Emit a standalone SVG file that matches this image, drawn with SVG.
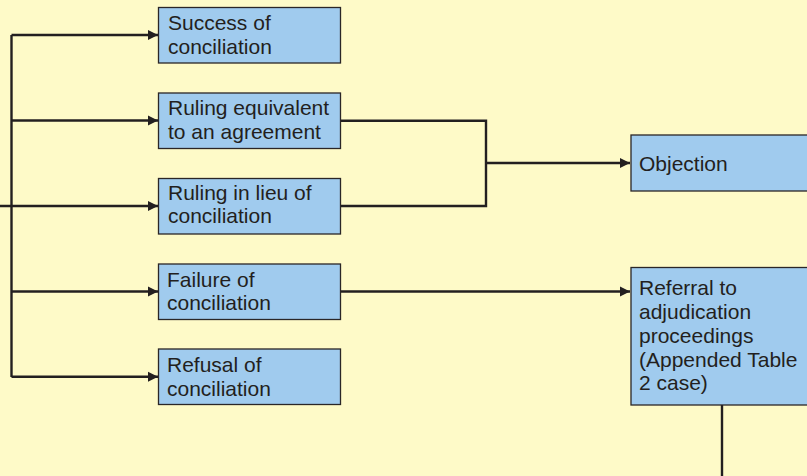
<svg xmlns="http://www.w3.org/2000/svg" width="807" height="476" viewBox="0 0 807 476">
<style>
.box{fill:#A0CBEE;stroke:#2a2627;stroke-width:1.3}
.t{font-family:"Liberation Sans",Arial,sans-serif;font-size:21px;fill:#231F20}
.c{fill:none;stroke:#231F20;stroke-width:2.4}
</style>
<defs>
<marker id="ah" markerWidth="12" markerHeight="12" refX="10" refY="6" orient="auto" markerUnits="userSpaceOnUse">
<path d="M0,1 L10,6 L0,11 Z" fill="#231F20"/>
</marker>
</defs>
<rect width="807" height="476" fill="#FEFAC8"/>
<g id="connectors">
<path class="c" d="M11.5,35 V377"/>
<path class="c" d="M11.5,35 H158" marker-end="url(#ah)"/>
<path class="c" d="M11.5,120.5 H158" marker-end="url(#ah)"/>
<path class="c" d="M0,206 H158" marker-end="url(#ah)"/>
<path class="c" d="M11.5,291.5 H158" marker-end="url(#ah)"/>
<path class="c" d="M11.5,376.7 H158" marker-end="url(#ah)"/>
<path class="c" d="M340,120.7 H486 V206 H340"/>
<path class="c" d="M486,163 H630" marker-end="url(#ah)"/>
<path class="c" d="M340,291.5 H630" marker-end="url(#ah)"/>
<path class="c" d="M722,405 V476"/>
</g>
<g id="n1"><rect class="box" x="158.5" y="7.5" width="182" height="55.5"/>
<text class="t" x="168" y="30">Success of</text><text class="t" x="168" y="53.5">conciliation</text></g>
<g id="n2"><rect class="box" x="158.5" y="93" width="182" height="55.5"/>
<text class="t" x="168" y="115">Ruling equivalent</text><text class="t" x="168" y="139">to an agreement</text></g>
<g id="n3"><rect class="box" x="158.5" y="178.5" width="182" height="55.5"/>
<text class="t" x="168" y="200">Ruling in lieu of</text><text class="t" x="168" y="223">conciliation</text></g>
<g id="n4"><rect class="box" x="158.5" y="264" width="182" height="55.5"/>
<text class="t" x="167" y="286.7">Failure of</text><text class="t" x="167" y="310">conciliation</text></g>
<g id="n5"><rect class="box" x="158.5" y="349" width="182" height="55.5"/>
<text class="t" x="167" y="372">Refusal of</text><text class="t" x="167" y="395.5">conciliation</text></g>
<g id="n6"><rect class="box" x="631" y="135" width="190" height="56"/>
<text class="t" x="639" y="171">Objection</text></g>
<g id="n7"><rect class="box" x="631" y="267.5" width="190" height="137.5"/>
<text class="t" x="639" y="295">Referral to</text><text class="t" x="639" y="319">adjudication</text><text class="t" x="639" y="342.5">proceedings</text><text class="t" x="639" y="366.5">(Appended Table</text><text class="t" x="639" y="390">2 case)</text></g>
</svg>
